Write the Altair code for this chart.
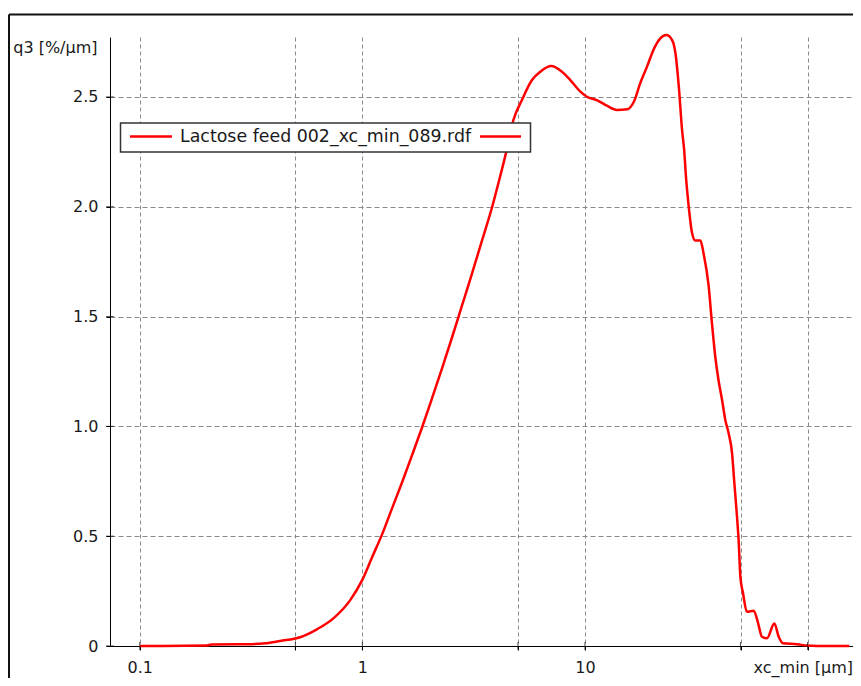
import altair as alt
import pandas as pd

# ---- data ----
sizes_um = [0.1, 0.2, 0.21, 0.3, 0.366, 0.427, 0.525, 0.625, 0.741, 0.882, 0.998,
            1.107, 1.234, 1.361, 1.51, 1.674, 1.857, 2.059, 2.284, 2.532, 2.809, 3.115,
            3.454, 3.831, 4.12, 4.43, 4.77, 5.21,
            5.78, 6.3, 7.06, 7.88, 8.59, 9.53, 10.2, 11.3, 12.6, 13.9, 15.5, 16.6,
            17.7, 19.0, 20.3, 21.8, 23.2, 24.6, 25.5, 26.4, 27.3, 27.9, 28.5, 29.2,
            30.3, 31.3, 33.0, 34.1, 35.9, 37.2, 38.5, 39.8, 41.3, 42.7, 44.2, 45.8,
            46.9, 48.2, 49.0, 49.9, 51.3, 53.4, 57.3, 59.7, 62.4, 65.7, 70.9, 74.2,
            77.6, 89.7, 99.5, 110.0, 154.0]
q3_values = [0.0, 0.002, 0.007, 0.008, 0.012, 0.023, 0.04, 0.076, 0.126, 0.209, 0.30,
             0.405, 0.515, 0.628, 0.747, 0.87, 0.997, 1.13, 1.266, 1.407, 1.553, 1.699,
             1.849, 2.0, 2.122, 2.25, 2.395, 2.486,
             2.577, 2.615, 2.641, 2.615, 2.577, 2.524, 2.501, 2.486, 2.459, 2.441, 2.444, 2.479,
             2.562, 2.638, 2.714, 2.767, 2.782, 2.76, 2.699, 2.547, 2.35, 2.259, 2.122, 2.008,
             1.879, 1.846, 1.846, 1.788, 1.644, 1.469, 1.317, 1.211, 1.12, 1.029, 0.969, 0.877,
             0.741, 0.589, 0.483, 0.316, 0.24, 0.156, 0.161, 0.111, 0.042, 0.035, 0.103, 0.042,
             0.012, 0.008, 0.002, 0.0, 0.0]
x_tick_values = [0.1, 0.5, 1, 5, 10, 50, 100]
y_tick_values = [0, 0.5, 1.0, 1.5, 2.0, 2.5]
legend_label = "Lactose feed 002_xc_min_089.rdf"
x_title = "xc_min [µm]"
y_title = "q3 [%/µm]"

# ---- layout / style ----
W, H = 743, 609
FONT = "DejaVu Sans"
TEXT = "#1a1a1a"
RED = "#ff0000"

df = pd.DataFrame({"x": sizes_um, "q3": q3_values})
xt_df = pd.DataFrame({"x": x_tick_values})
yt_df = pd.DataFrame({"q3": y_tick_values})
one = pd.DataFrame({"a": [0]})

xscale = alt.Scale(type="log", domain=[0.0735, 160], nice=False)
yscale = alt.Scale(domain=[0, 2.773], nice=False, zero=False)

x_label_expr = ("datum.value == 0.1 ? '0.1' : datum.value == 1 ? '1' : "
                "datum.value == 10 ? '10' : datum.value == 100 ? '" + x_title + "' : ''")
xaxis = alt.Axis(values=x_tick_values, labelExpr=x_label_expr, title=None,
                 grid=True, gridDash=[4, 3], gridColor="#8a8a8a", gridWidth=1,
                 tickSize=4, labelPadding=9, labelOverlap=False, labelFlush=False,
                 labelBound=False,
                 labelAlign={"condition": {"test": "datum.value == 100", "value": "right"},
                             "value": "center"},
                 labelOffset={"condition": {"test": "datum.value == 100", "value": 45},
                              "value": 0})
yaxis = alt.Axis(values=y_tick_values,
                 labelExpr="datum.value == 0 ? '0' : format(datum.value, '.1f')",
                 title=y_title, titleAngle=0, titleX=-13, titleY=10,
                 titleAlign="right", titleBaseline="middle",
                 grid=True, gridDash=[5, 3], gridColor="#8a8a8a", gridWidth=1,
                 tickSize=4, labelPadding=8)

x_enc = alt.X("x:Q", scale=xscale, axis=xaxis)
y_enc = alt.Y("q3:Q", scale=yscale, axis=yaxis)

line = alt.Chart(df).mark_line(color=RED, strokeWidth=2.5, clip=False,
                               interpolate="monotone").encode(x=x_enc, y=y_enc)

xticks = alt.Chart(xt_df).mark_tick(color="black", thickness=1, size=8).encode(
    x=x_enc, y=alt.value(H))
yticks = alt.Chart(yt_df).mark_tick(color="black", thickness=1, size=8).encode(
    y=y_enc, x=alt.value(0))

frame_top = alt.Chart(one).mark_rule(color="#111111", strokeWidth=2).encode(
    x=alt.value(-101), x2=alt.value(800), y=alt.value(-22.5))
frame_left = alt.Chart(one).mark_rule(color="#111111", strokeWidth=2).encode(
    x=alt.value(-101), y=alt.value(-22.5), y2=alt.value(700))

leg_box = alt.Chart(one).mark_rect(fill="white", stroke="#333333", strokeWidth=1.5).encode(
    x=alt.value(10.5), x2=alt.value(420.5), y=alt.value(86), y2=alt.value(115))
leg_l = alt.Chart(one).mark_rule(color=RED, strokeWidth=2.5).encode(
    x=alt.value(20), x2=alt.value(62), y=alt.value(99.5))
leg_r = alt.Chart(one).mark_rule(color=RED, strokeWidth=2.5).encode(
    x=alt.value(370), x2=alt.value(411), y=alt.value(99.5))
leg_t = alt.Chart(one).mark_text(align="left", baseline="middle", font=FONT,
                                 fontSize=17.4, color=TEXT).encode(
    x=alt.value(70), y=alt.value(100), text=alt.value(legend_label))

chart = alt.layer(
    line, xticks, yticks, frame_top, frame_left, leg_box, leg_l, leg_r, leg_t
).properties(
    width=W, height=H,
    autosize=alt.AutoSizeParams(type="none"),
    padding={"left": 102, "top": 29, "right": 0, "bottom": 32},
    background="white",
).configure_view(stroke=None).configure_axis(
    labelFont=FONT, labelFontSize=16, labelColor=TEXT,
    titleFont=FONT, titleFontSize=16, titleColor=TEXT, titleFontWeight="normal",
    domainColor="black", domainWidth=1, tickColor="black", tickWidth=1,
)

chart.save("out.html", embed_options={"renderer": "svg", "actions": False})
